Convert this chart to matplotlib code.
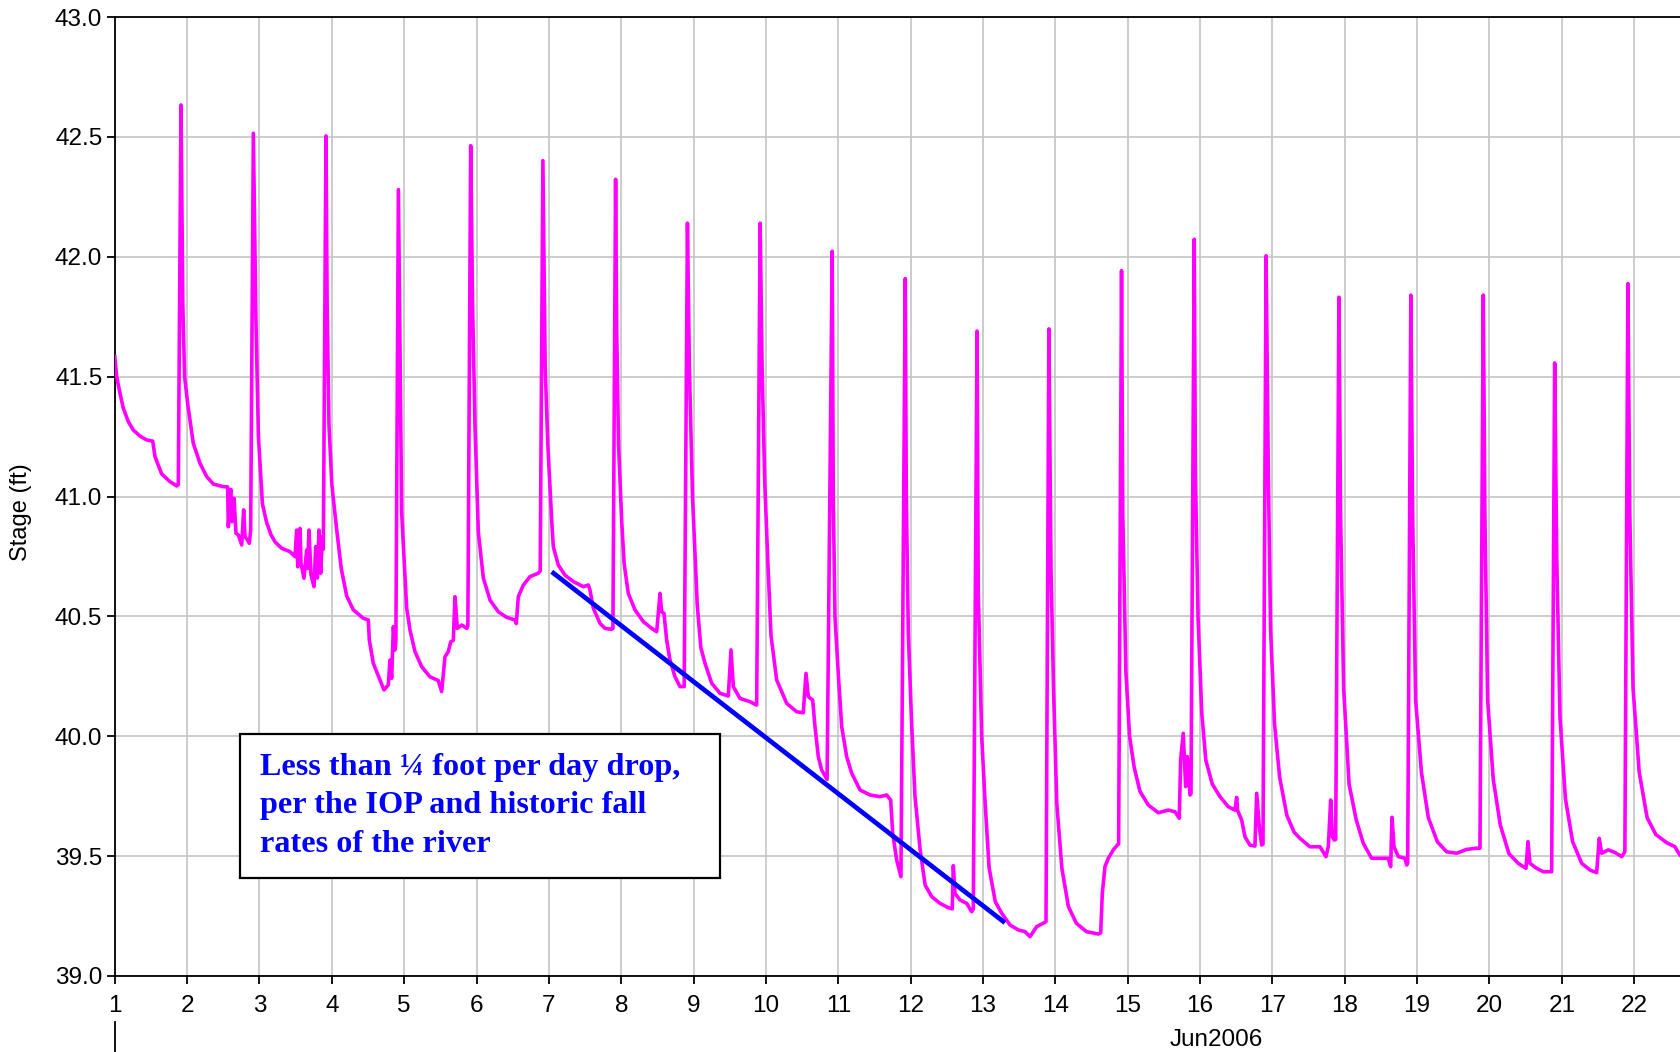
import matplotlib
matplotlib.use("Agg")
import matplotlib.pyplot as plt
from matplotlib.patches import Rectangle
from matplotlib.lines import Line2D

# ---------------- data ----------------
time_day = [
    1.000, 1.026, 1.072, 1.118, 1.187, 1.256, 1.348, 1.441, 1.524, 1.556, 1.648, 1.763, 1.855, 1.878,
    1.915, 1.940, 1.965, 2.010, 2.085, 2.178, 2.270, 2.362, 2.500, 2.560,
    2.569, 2.602, 2.620, 2.648, 2.675, 2.707, 2.754, 2.781, 2.800, 2.832, 2.859, 2.878,
    2.915, 2.950, 2.985, 3.040, 3.100, 3.160, 3.214, 3.307, 3.421, 3.491,
    3.514, 3.528, 3.560, 3.574, 3.615, 3.652, 3.665, 3.684, 3.712, 3.753, 3.777, 3.800, 3.822, 3.846, 3.868, 3.882,
    3.919, 3.935, 3.960, 4.000, 4.060, 4.130, 4.205, 4.297, 4.435, 4.504,
    4.518, 4.573, 4.665, 4.721, 4.780, 4.804, 4.827, 4.850, 4.873, 4.885,
    4.920, 4.942, 4.965, 5.034, 5.080, 5.149, 5.242, 5.356, 5.471, 5.518,
    5.564, 5.610, 5.643, 5.679, 5.702, 5.734, 5.795, 5.864, 5.880,
    5.919, 5.945, 5.978, 6.025, 6.094, 6.186, 6.301, 6.417, 6.532, 6.550,
    6.577, 6.646, 6.739, 6.854, 6.880,
    6.917, 6.949, 6.985, 7.039, 7.061, 7.130, 7.223, 7.338, 7.476, 7.545, 7.568, 7.614, 7.706, 7.775, 7.868, 7.885,
    7.922, 7.937, 7.963, 8.006, 8.040, 8.097, 8.190, 8.305, 8.421, 8.490, 8.536, 8.559, 8.591, 8.628, 8.674, 8.743, 8.812, 8.870,
    8.915, 8.942, 8.985, 9.050, 9.100, 9.158, 9.250, 9.365, 9.480, 9.517, 9.549, 9.641, 9.779, 9.872,
    9.920, 9.947, 9.984, 10.027, 10.070, 10.148, 10.287, 10.425, 10.516, 10.554, 10.586, 10.646, 10.678, 10.724, 10.770, 10.845,
    10.916, 10.931, 10.954, 11.000, 11.047, 11.116, 11.185, 11.300, 11.438, 11.576, 11.669, 11.724, 11.752, 11.807, 11.866,
    11.926, 11.940, 11.968, 12.014, 12.060, 12.130, 12.200, 12.291, 12.406, 12.520, 12.575, 12.590, 12.613, 12.682, 12.775, 12.844, 12.866,
    12.918, 12.935, 12.982, 13.030, 13.085, 13.170, 13.258, 13.373, 13.488, 13.581, 13.650, 13.742, 13.833, 13.871,
    13.911, 13.940, 13.975, 14.020, 14.090, 14.180, 14.290, 14.430, 14.594, 14.627,
    14.649, 14.686, 14.732, 14.801, 14.856, 14.875,
    14.915, 14.932, 14.975, 15.026, 15.090, 15.170, 15.285, 15.423, 15.561, 15.654, 15.713,
    15.732, 15.768, 15.801, 15.824, 15.861, 15.875,
    15.920, 15.936, 15.972, 16.023, 16.080, 16.170, 16.276, 16.390, 16.483, 16.506, 16.520, 16.575, 16.621, 16.690, 16.759, 16.783, 16.819, 16.852, 16.870,
    16.913, 16.944, 16.975, 17.030, 17.100, 17.200, 17.300, 17.381, 17.519, 17.658, 17.741, 17.773, 17.806, 17.829, 17.856, 17.875,
    17.920, 17.942, 17.985, 18.060, 18.160, 18.257, 18.372, 18.487, 18.602, 18.635, 18.653, 18.681, 18.740, 18.833, 18.856, 18.870,
    18.914, 18.938, 18.980, 19.060, 19.156, 19.280, 19.409, 19.547, 19.685, 19.824, 19.869,
    19.915, 19.937, 19.975, 20.053, 20.150, 20.270, 20.398, 20.505, 20.533, 20.560, 20.653, 20.744, 20.860,
    20.902, 20.930, 20.975, 21.050, 21.150, 21.275, 21.390, 21.482, 21.518, 21.551, 21.643, 21.735, 21.828, 21.860, 21.872,
    21.914, 21.940, 21.985, 22.070, 22.180, 22.300, 22.450, 22.565, 22.600, 22.634,
]
stage_ft = [
    41.583, 41.500, 41.430, 41.368, 41.312, 41.277, 41.252, 41.236, 41.231, 41.166, 41.094, 41.062, 41.044, 41.050,
    42.633, 41.800, 41.500, 41.380, 41.222, 41.138, 41.083, 41.052, 41.041, 41.040,
    40.874, 41.030, 40.895, 40.993, 40.847, 40.840, 40.798, 40.944, 40.832, 40.820, 40.805, 40.860,
    42.515, 41.750, 41.250, 40.970, 40.890, 40.840, 40.811, 40.784, 40.770, 40.749,
    40.860, 40.707, 40.867, 40.720, 40.659, 40.777, 40.700, 40.860, 40.673, 40.624, 40.791, 40.660, 40.860, 40.680, 40.832, 40.780,
    42.504, 41.800, 41.300, 41.050, 40.880, 40.700, 40.585, 40.527, 40.492, 40.485,
    40.401, 40.304, 40.235, 40.193, 40.214, 40.318, 40.242, 40.457, 40.360, 40.400,
    42.280, 41.620, 40.933, 40.535, 40.443, 40.353, 40.290, 40.248, 40.232, 40.186,
    40.332, 40.353, 40.394, 40.400, 40.582, 40.450, 40.464, 40.450, 40.460,
    42.463, 41.800, 41.300, 40.850, 40.660, 40.568, 40.519, 40.496, 40.485, 40.470,
    40.582, 40.630, 40.666, 40.680, 40.690,
    42.401, 41.536, 41.217, 40.898, 40.791, 40.714, 40.672, 40.645, 40.624, 40.631, 40.610, 40.534, 40.471, 40.450, 40.446, 40.450,
    42.323, 41.696, 41.217, 40.898, 40.720, 40.596, 40.527, 40.478, 40.450, 40.436, 40.596, 40.519, 40.513, 40.401, 40.318, 40.248, 40.207, 40.207,
    42.140, 41.536, 41.000, 40.550, 40.370, 40.304, 40.221, 40.179, 40.168, 40.360, 40.207, 40.158, 40.144, 40.130,
    42.140, 41.536, 41.058, 40.720, 40.420, 40.235, 40.137, 40.102, 40.098, 40.262, 40.165, 40.151, 40.040, 39.915, 39.859, 39.820,
    42.023, 40.985, 40.500, 40.260, 40.040, 39.915, 39.846, 39.776, 39.755, 39.748, 39.755, 39.734, 39.595, 39.484, 39.414,
    41.909, 41.000, 40.430, 40.050, 39.750, 39.530, 39.380, 39.331, 39.303, 39.285, 39.280, 39.460, 39.345, 39.317, 39.303, 39.268, 39.280,
    41.690, 40.600, 40.000, 39.720, 39.450, 39.310, 39.262, 39.213, 39.192, 39.185, 39.164, 39.206, 39.220, 39.227,
    41.699, 40.700, 40.200, 39.720, 39.450, 39.290, 39.220, 39.185, 39.175, 39.180,
    39.345, 39.456, 39.491, 39.526, 39.546, 39.550,
    41.942, 40.930, 40.270, 40.000, 39.870, 39.770, 39.713, 39.681, 39.692, 39.685, 39.658,
    39.901, 40.012, 39.790, 39.915, 39.755, 39.760,
    42.073, 41.100, 40.500, 40.100, 39.900, 39.800, 39.748, 39.706, 39.692, 39.745, 39.690, 39.651, 39.581, 39.546, 39.542, 39.762, 39.623, 39.546, 39.550,
    42.004, 41.100, 40.450, 40.050, 39.830, 39.670, 39.600, 39.574, 39.539, 39.539, 39.498, 39.540, 39.734, 39.581, 39.567, 39.570,
    41.831, 40.930, 40.200, 39.800, 39.650, 39.553, 39.491, 39.491, 39.491, 39.456, 39.662, 39.539, 39.498, 39.491, 39.463, 39.470,
    41.840, 40.930, 40.150, 39.850, 39.660, 39.560, 39.518, 39.512, 39.528, 39.533, 39.533,
    41.840, 40.930, 40.150, 39.820, 39.630, 39.510, 39.470, 39.449, 39.560, 39.470, 39.449, 39.435, 39.435,
    41.557, 40.750, 40.080, 39.740, 39.560, 39.470, 39.442, 39.431, 39.574, 39.512, 39.526, 39.515, 39.498, 39.512, 39.520,
    41.888, 40.930, 40.200, 39.850, 39.660, 39.590, 39.556, 39.539, 39.520, 39.505,
]

# guide line showing a fall rate below 1/4 ft per day
guide_day = [7.039, 13.304]
guide_stage = [40.686, 39.222]

day_ticks = list(range(1, 23))
stage_ticks = [39.0, 39.5, 40.0, 40.5, 41.0, 41.5, 42.0, 42.5, 43.0]
month_label = "Jun2006"
note_lines = ["Less than \u00bc foot per day drop,",
              "per the IOP and historic fall",
              "rates of the river"]

# ---------------- figure ----------------
W, H = 1680, 1052
fig = plt.figure(figsize=(W / 100, H / 100), dpi=100)
plt.rcParams['font.family'] = ['Liberation Sans', 'DejaVu Sans']

left, right, top, bottom = 114.8, 1680, 17, 976
ax = fig.add_axes([left / W, 1 - bottom / H, (right - left) / W, (bottom - top) / H])

ax.plot(time_day, stage_ft, color='#ff00ff', lw=2.6, zorder=3)
ax.plot(guide_day, guide_stage, color='#0000ff', lw=3.4, zorder=4, solid_capstyle='butt')

ax.set_xlim(1.0, 22.634)
ax.set_ylim(39.0, 43.0)
ax.set_xticks(day_ticks)
ax.set_xticklabels([str(d) for d in day_ticks])
ax.set_yticks(stage_ticks)
ax.set_yticklabels([f"{v:.1f}" for v in stage_ticks])

ax.grid(True, color='#c4c4c4', lw=1.2, zorder=0)
ax.set_axisbelow(True)
for s in ['left', 'bottom', 'top']:
    ax.spines[s].set_linewidth(1.3)
    ax.spines[s].set_color('black')
ax.spines['right'].set_visible(False)
ax.tick_params(axis='both', direction='out', length=6, width=1.3, labelsize=17.5, colors='black')
ax.tick_params(axis='x', pad=8)
ax.tick_params(axis='y', pad=3)

ax.set_ylabel("Stage (ft)", fontsize=17)
ax.yaxis.set_label_coords(-0.053, 0.484)

# annotation box
def px2data(X, Y):
    return 1 + (X - 114.8) / 72.35, 43 - (Y - 17) / 239.75

x0, y0 = px2data(240, 878)
x1, y1 = px2data(720, 734)
ax.add_patch(Rectangle((x0, y0), x1 - x0, y1 - y0, facecolor='white', edgecolor='black',
                       lw=1.6, zorder=5))
for line, Yb in zip(note_lines, [775, 813.3, 851.7]):
    tx, ty = px2data(260, Yb)
    ax.text(tx, ty, line, color='#0000ff', fontsize=23.2, fontweight='bold',
            family=['Liberation Serif', 'DejaVu Serif'], va='baseline', ha='left', zorder=6)

# month label row
fig.text(1216 / W, 1 - 1046 / H, month_label, fontsize=17.5, ha='center', va='baseline')
fig.add_artist(Line2D([left / W, left / W], [1 - 1022 / H, 0], color='black', lw=1.3))

fig.savefig("out.png", dpi=100)
